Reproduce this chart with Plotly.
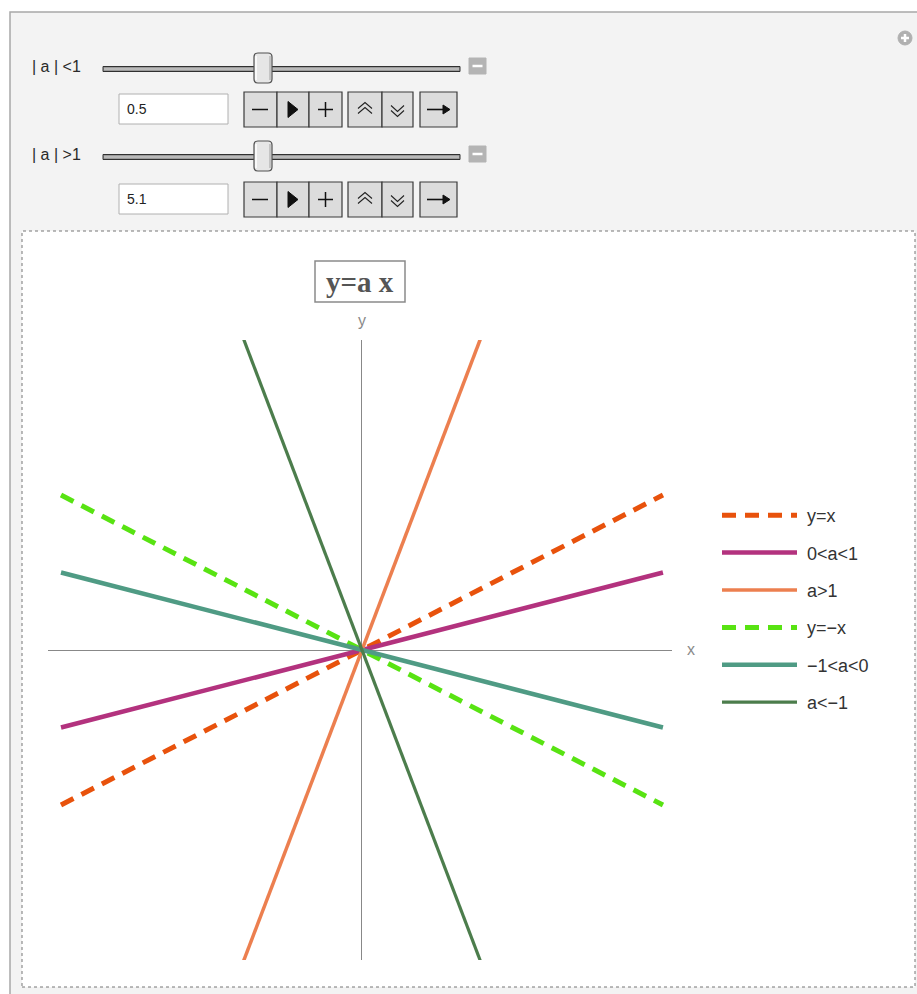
import plotly.graph_objects as go

W, H = 917, 994

# ---------------- data ----------------
series_names = ["y=x", "0&lt;a&lt;1", "a&gt;1", "y=−x", "−1&lt;a&lt;0", "a&lt;−1"]
slopes = [1.0, 0.5, 5.1, -1.0, -0.5, -5.1]
x_ends = [-5.0, 5.0]
slider_labels = ["| a | &lt;1", "| a | &gt;1"]
slider_values = ["0.5", "5.1"]
title_text = "y=a x"

# ---------------- styles ----------------
colors = ["#E8520C", "#B3327E", "#EC7F4F", "#58E312", "#4F9B84", "#4C7D4C"]
widths = [5, 4.5, 3.5, 5, 4.5, 3.2]
dashes = ["14px,9px", "solid", "solid", "14px,9px", "solid", "solid"]


def px(x):
    return x / W


def py(y):
    return 1 - y / H


fig = go.Figure()
for name, a, c, w, d in zip(series_names, slopes, colors, widths, dashes):
    fig.add_trace(go.Scatter(
        x=x_ends, y=[a * v for v in x_ends], mode="lines",
        name="\u00a0" + name,
        legendgroup=name,
        line=dict(color=c, width=w, dash=d), hoverinfo="skip"))

shapes = []
annotations = []


def rect(x0, y0, x1, y1, fill, line="#444", lw=1, dash="solid", layer="below"):
    shapes.append(dict(type="rect", xref="paper", yref="paper",
                       x0=px(x0), x1=px(x1), y0=py(y1), y1=py(y0),
                       fillcolor=fill, line=dict(color=line, width=lw, dash=dash),
                       layer=layer))


def seg(x0, y0, x1, y1, color="#222", lw=1.5, dash="solid", layer="above"):
    shapes.append(dict(type="line", xref="paper", yref="paper",
                       x0=px(x0), x1=px(x1), y0=py(y0), y1=py(y1),
                       line=dict(color=color, width=lw, dash=dash), layer=layer))


def path(points, fill=None, color="#222", lw=1.2, closed=False, layer="above"):
    s = ""
    for i, (x, y) in enumerate(points):
        s += ("M" if i == 0 else "L") + f"{px(x):.5f},{py(y):.5f} "
    if closed:
        s += "Z"
    shapes.append(dict(type="path", xref="paper", yref="paper", path=s,
                       fillcolor=fill if fill else "rgba(0,0,0,0)",
                       line=dict(color=color, width=lw), layer=layer))


def rrect(x0, y0, x1, y1, r, fill, line="#555", lw=1):
    rx, ry = r, r
    pts = (f"M{px(x0+rx):.5f},{py(y0):.5f} L{px(x1-rx):.5f},{py(y0):.5f} "
           f"Q{px(x1):.5f},{py(y0):.5f} {px(x1):.5f},{py(y0+ry):.5f} "
           f"L{px(x1):.5f},{py(y1-ry):.5f} "
           f"Q{px(x1):.5f},{py(y1):.5f} {px(x1-rx):.5f},{py(y1):.5f} "
           f"L{px(x0+rx):.5f},{py(y1):.5f} "
           f"Q{px(x0):.5f},{py(y1):.5f} {px(x0):.5f},{py(y1-ry):.5f} "
           f"L{px(x0):.5f},{py(y0+ry):.5f} "
           f"Q{px(x0):.5f},{py(y0):.5f} {px(x0+rx):.5f},{py(y0):.5f} Z")
    shapes.append(dict(type="path", xref="paper", yref="paper", path=pts,
                       fillcolor=fill, line=dict(color=line, width=lw), layer="above"))


def text(x, y, t, size=13, color="#333", xanchor="left", family="Liberation Sans, Arial, sans-serif"):
    annotations.append(dict(x=px(x), y=py(y), xref="paper", yref="paper", text=t,
                            showarrow=False, xanchor=xanchor, yanchor="middle",
                            font=dict(size=size, color=color, family=family)))


# outer panel
rect(10, 12, W + 5, H + 5, "#F3F3F3", line="#A8A8A8", lw=1.5)
# white plot panel with dotted border
rect(22, 231, 915, 987, "#FFFFFF", line="#777777", lw=1, dash="dot")

# plus-circle icon
shapes.append(dict(type="circle", xref="paper", yref="paper",
                   x0=px(898), x1=px(912), y0=py(45), y1=py(31),
                   fillcolor="#B0B0B0", line=dict(color="#B0B0B0", width=1), layer="above"))
seg(901, 38, 909, 38, color="#FFFFFF", lw=2.5)
seg(905, 34, 905, 42, color="#FFFFFF", lw=2.5)

# controls
for i, (lab, val) in enumerate(zip(slider_labels, slider_values)):
    sy = 69 + 88 * i
    by = 92 + 90 * i
    text(30, sy - 2, lab, size=16, color="#2A2A2A")
    # slider track
    rect(103, sy - 2.5, 460, sy + 2.5, "#9A9A9A", line="#303030", lw=1, layer="above")
    seg(104, sy, 459, sy, color="#D8D8D8", lw=1)
    # knob
    rrect(254, sy - 16, 272, sy + 14, 4, "#E6E6E6", line="#505050", lw=1.2)
    seg(256, sy - 13, 256, sy + 11, color="#FFFFFF", lw=1.5)
    seg(270, sy - 13, 270, sy + 11, color="#B8B8B8", lw=1.5)
    # grey minus square
    rect(469, sy - 11, 486, sy + 5, "#B4B4B4", line="#B4B4B4", lw=1, layer="above")
    seg(472.5, sy - 3, 482.5, sy - 3, color="#FFFFFF", lw=2.5)
    # input field
    rect(119, by + 2, 228, by + 32, "#FFFFFF", line="#B0B0B0", lw=1, layer="above")
    text(125, by + 17, val, size=14, color="#222")
    # button groups
    for x0, x1 in [(244, 277), (277, 309), (309, 342), (348, 382), (382, 413), (420, 457)]:
        rect(x0, by, x1, by + 35, "#DCDCDC", line="#3A3A3A", lw=1.2, layer="above")
    cy = by + 17.5
    # minus
    seg(252, cy, 268, cy, color="#111", lw=1.5)
    # play triangle
    path([(288, cy - 8), (288, cy + 8), (298, cy)], fill="#111", color="#111", lw=1, closed=True)
    # plus
    seg(318, cy, 333, cy, color="#111", lw=1.5)
    seg(325.5, cy - 7.5, 325.5, cy + 7.5, color="#111", lw=1.5)
    # double up chevrons
    path([(358, cy - 1), (365, cy - 7), (372, cy - 1)], color="#222", lw=1.1)
    path([(358, cy + 4), (365, cy - 2), (372, cy + 4)], color="#222", lw=1.1)
    # double down chevrons
    path([(391, cy - 4), (397.5, cy + 2), (404, cy - 4)], color="#222", lw=1.1)
    path([(391, cy + 1), (397.5, cy + 7), (404, cy + 1)], color="#222", lw=1.1)
    # right arrow
    seg(427, cy, 446, cy, color="#111", lw=1.6)
    path([(443, cy - 4.5), (450, cy), (443, cy + 4.5)], fill="#111", color="#111", lw=1, closed=True)

# title box
rect(315, 261, 405, 302, "rgba(255,255,255,0)", line="#8A8A8A", lw=1.5, layer="above")
annotations.append(dict(x=px(360), y=py(282), xref="paper", yref="paper",
                        text=f"<b>{title_text}</b>", showarrow=False,
                        xanchor="center", yanchor="middle",
                        font=dict(size=29, color="#555555",
                                  family="Liberation Serif, Times New Roman, serif")))
# axis labels
text(362, 320, "y", size=16, color="#8A8A8A", xanchor="center")
text(685, 649, "x", size=16, color="#8A8A8A")

fig.update_layout(
    width=W, height=H,
    margin=dict(l=0, r=0, t=0, b=0),
    paper_bgcolor="#FFFFFF",
    plot_bgcolor="rgba(0,0,0,0)",
    shapes=shapes,
    annotations=annotations,
    showlegend=True,
    legend=dict(x=px(717), y=py(497), xanchor="left", yanchor="top",
                bgcolor="rgba(0,0,0,0)", itemwidth=75, tracegroupgap=11,
                font=dict(size=18, color="#333333",
                          family="Liberation Sans, Arial, sans-serif")),
    xaxis=dict(domain=[px(48), px(672)], range=[-5.216, 5.150],
               showgrid=False, showticklabels=False, ticks="",
               zeroline=True, zerolinecolor="#888888", zerolinewidth=1,
               showline=False, fixedrange=True),
    yaxis=dict(domain=[py(960), py(340)], range=[-10, 10],
               showgrid=False, showticklabels=False, ticks="",
               zeroline=True, zerolinecolor="#888888", zerolinewidth=1,
               showline=False, fixedrange=True),
)

fig.write_html("out.html", config={"displayModeBar": False},
               post_script="document.body.style.margin='0';document.body.style.overflow='hidden';")
